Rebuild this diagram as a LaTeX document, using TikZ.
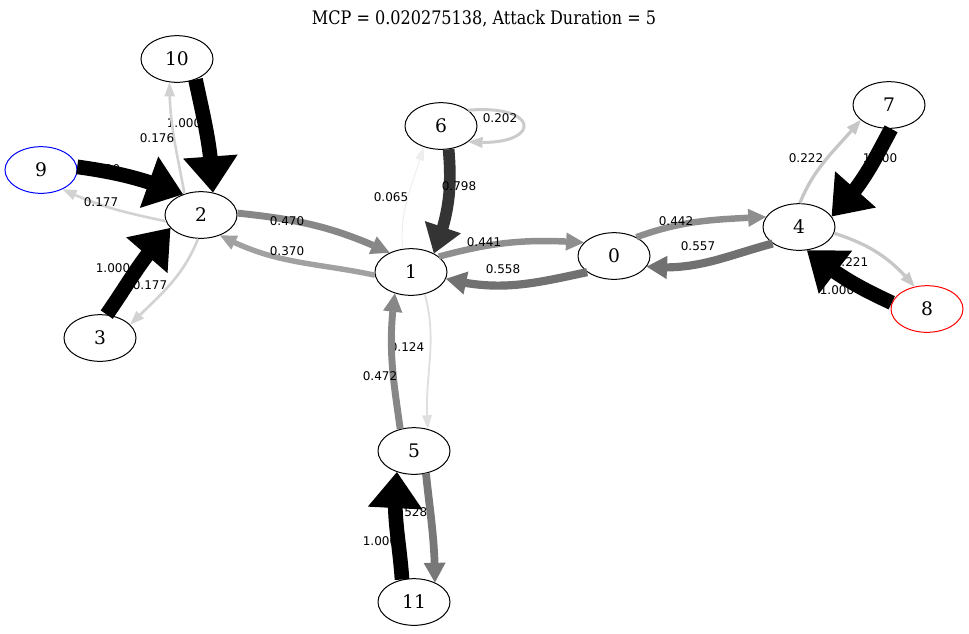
\documentclass[tikz,border=0pt]{standalone}
\usepackage{fontspec}
\usetikzlibrary{arrows.meta,bending,shapes.geometric}
\newfontfamily\gvserif{DejaVu Serif}
\newfontfamily\gvtitle{DejaVu Serif}[FakeStretch=0.86]
\newfontfamily\gvsans{DejaVu Sans}

\tikzset{
  gvnode/.style={ellipse, draw=black, line width=0.75pt, minimum width=54pt,
    minimum height=35pt, inner sep=0pt, font=\gvserif\fontsize{14pt}{16pt}\selectfont},
  elbl/.style={inner sep=0pt, font=\gvsans\fontsize{9pt}{10pt}\selectfont},
  % edge weighted by its probability: grey level, pen width and arrow size grow with it
  pe/.code={%
    \pgfmathsetmacro\gvlw{max(0.65,11*#1)}%
    \pgfmathsetmacro\gval{10+17*#1*#1}%
    \pgfmathsetmacro\gvaw{7+34*#1*#1}%
    \pgfmathsetmacro\gvgr{100*#1}%
    \edef\gvstyle{draw=black!\gvgr, line width=\gvlw pt,
      -{Triangle[length=\gval pt, width=\gvaw pt, line width=0pt, flex]}}%
    \expandafter\tikzset\expandafter{\gvstyle}%
  }
}

\begin{document}
\begin{tikzpicture}[x=0.75pt, y=0.75pt]
\fill[white] (0,0) rectangle (969,-633);
\useasboundingbox (0,0) rectangle (969,-633);

\node[font=\gvtitle\fontsize{14pt}{16pt}\selectfont] (title) at (484,-19)
  {MCP = 0.020275138, Attack Duration = 5};

% states
\node[gvnode] (n10) at (177,-59) {10};
\node[gvnode, draw=blue] (n9) at (41,-170) {9};
\node[gvnode] (n2) at (201,-215) {2};
\node[gvnode] (n3) at (100,-338) {3};
\node[gvnode] (n6) at (441,-126) {6};
\node[gvnode] (n1) at (411,-272) {1};
\node[gvnode] (n0) at (614,-256) {0};
\node[gvnode] (n7) at (889,-105) {7};
\node[gvnode] (n4) at (799,-227) {4};
\node[gvnode, draw=red] (n8) at (927,-309) {8};
\node[gvnode] (n5) at (414,-451) {5};
\node[gvnode] (n11) at (414,-602) {11};

% transitions, each followed by its probability
\draw[pe=1.0] (n10.-48) to[out=-78,in=92] (n2.62);
\node[elbl] (l10a) at (184,-123) {1.000};
\draw[pe=0.176] (n2.128) to[out=100,in=-90] (n10.-108);
\node[elbl] (l2a) at (157,-138) {0.176};

\draw[pe=1.0] (n9.5) to[out=-8,in=159] (n2.131);
\node[elbl] (l9a) at (103,-169) {1.000};
\draw[pe=0.177] (n2.190) to[out=168,in=-25] (n9.-42);
\node[elbl] (l2b) at (101,-202) {0.177};

\draw[pe=1.0] (n3.74) to[out=55,in=-134] (n2.-157);
\node[elbl] (l3a) at (113,-268) {1.000};
\draw[pe=0.177] (n2.-97) to[out=-112,in=45] (n3.24);
\node[elbl] (l2c) at (150,-285) {0.177};

\draw[pe=0.470] (n2.3) to[out=-6,in=155] (n1.138);
\node[elbl] (l2d) at (287,-221) {0.470};
\draw[pe=0.370] (n1.185) to[out=168,in=-28] (n2.-47);
\node[elbl] (l1a) at (287,-251) {0.370};

\draw[pe=0.065] (n1.110) to[out=95,in=-105] (n6.-130);
\node[elbl] (l1b) at (391,-197) {0.065};
\draw[pe=0.798] (n6.-72) to[out=-85,in=69] (n1.39);
\node[elbl] (l6a) at (459,-186) {0.798};
\draw[pe=0.202] (n6.30) to[out=5,in=-5,distance=56pt] (n6.-30);
\node[elbl] (l6b) at (500,-118) {0.202};

\draw[pe=0.441] (n1.29) to[out=15,in=176] (n0.156);
\node[elbl] (l1c) at (484,-242) {0.441};
\draw[pe=0.558] (n0.211) to[out=192,in=-14] (n1.-11);
\node[elbl] (l0a) at (503,-269) {0.558};

\draw[pe=0.442] (n0.40) to[out=20,in=183] (n4.163);
\node[elbl] (l0b) at (676,-221) {0.442};
\draw[pe=0.557] (n4.212) to[out=195,in=-5] (n0.-18);
\node[elbl] (l4a) at (698,-246) {0.557};

\draw[pe=0.222] (n4.88) to[out=68,in=-130] (n7.208);
\node[elbl] (l4b) at (806,-158) {0.222};
\draw[pe=1.0] (n7.-85) to[out=-118,in=45] (n4.18);
\node[elbl] (l7a) at (880,-158) {1.000};

\draw[pe=0.221] (n4.-10) to[out=-18,in=130] (n8.119);
\node[elbl] (l4c) at (851,-262) {0.221};
\draw[pe=1.0] (n8.170) to[out=155,in=-40] (n4.-71);
\node[elbl] (l8a) at (837,-290) {1.000};

\draw[pe=0.124] (n1.-58) to[out=-75,in=95] (n5.58);
\node[elbl] (l1d) at (407,-347) {0.124};
\draw[pe=0.472] (n5.122) to[out=98,in=-98] (n1.-127);
\node[elbl] (l5a) at (380,-376) {0.472};

\draw[pe=0.528] (n5.-62) to[out=-84,in=90] (n11.43);
\node[elbl] (l5b) at (410,-512) {0.528};
\draw[pe=1.0] (n11.118) to[out=94,in=-97] (n5.-129);
\node[elbl] (l11a) at (380,-541) {1.000};
\end{tikzpicture}
\end{document}
